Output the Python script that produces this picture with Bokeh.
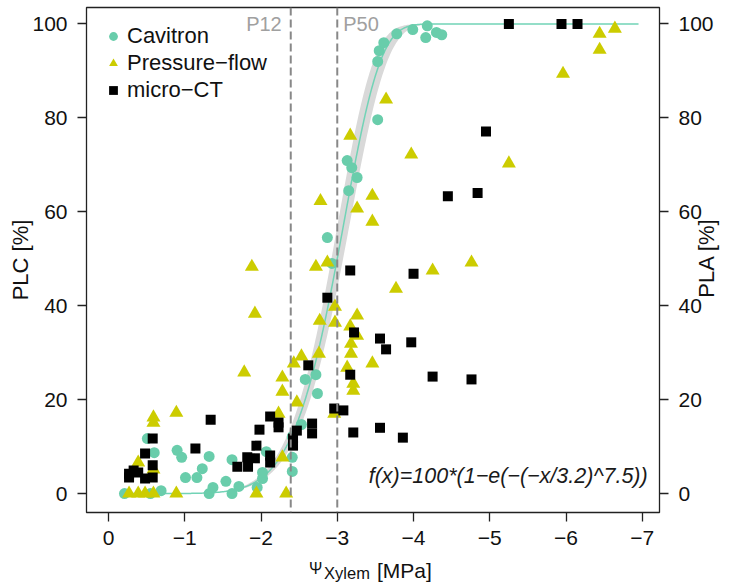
import numpy as np
from bokeh.plotting import figure
from bokeh.layouts import column
from bokeh.models import (Range1d, LinearAxis, FixedTicker, CustomJSTickFormatter,
                          Label, Span, Legend, LegendItem)
from bokeh.embed import file_html
from bokeh.resources import INLINE

# ---------------- data ----------------
cav_x = [-0.21, -0.55, -0.69, -0.51, -0.60, -0.90, -0.96, -1.01, -1.16, -1.23, -1.32, -1.32,
         -1.37, -1.54, -1.62, -1.62, -1.71, -1.95, -2.02, -2.02, -2.07, -2.41, -2.41, -2.41,
         -2.53, -2.58, -2.72, -2.74, -2.87, -2.93, -3.15, -3.13, -3.19, -3.26, -3.53, -3.53,
         -3.55, -3.61, -3.78, -3.99, -4.18, -4.16, -4.30, -4.37]
cav_y = [0.0, 0.0, 0.6, 11.7, 8.7, 9.2, 7.7, 3.4, 3.4, 5.3, 7.9, 0.0,
         1.3, 2.6, 7.2, 0.0, 1.5, 1.3, 3.2, 4.5, 8.9, 4.7, 7.7, 12.1,
         14.7, 24.3, 25.3, 21.3, 54.5, 49.0, 64.5, 70.9, 69.4, 67.3, 79.6, 92.0,
         94.3, 96.0, 97.9, 98.8, 99.6, 97.1, 98.2, 97.7]

pf_x = [-0.27, -0.39, -0.48, -0.59, -0.89, -1.94, -2.33, -0.39, -0.59, -0.59, -0.59, -0.89,
        -1.78, -1.88, -1.92, -2.23, -2.28, -2.28, -2.28, -2.43, -2.47, -2.53, -2.76, -2.72,
        -2.78, -2.77, -2.87, -2.96, -2.97, -2.97, -3.13, -3.17, -3.17, -3.18, -3.18, -3.21,
        -3.21, -3.26, -3.26, -3.26, -3.46, -3.46, -3.46, -3.64, -3.77, -3.97, -4.25, -4.76,
        -5.25, -5.96, -6.44, -6.44, -6.64]
pf_y = [0.0, 0.0, 0.0, 0.0, 0.0, 0.0, 0.0, 6.6, 5.1, 15.1, 16.2, 17.2,
        25.8, 48.3, 38.3, 17.0, 7.7, 21.7, 24.7, 27.7, 19.4, 29.2, 29.8, 48.3,
        62.3, 36.8, 49.2, 17.0, 39.8, 36.4, 26.8, 35.6, 76.2, 31.9, 29.8, 23.4,
        21.9, 60.7, 37.9, 33.6, 63.4, 57.9, 27.7, 83.9, 43.6, 72.2, 47.5, 49.2,
        70.3, 89.4, 97.9, 94.5, 99.0]

ct_x = [-0.27, -0.27, -0.33, -0.39, -0.48, -0.48, -0.58, -0.58, -0.58, -1.14, -1.34, -1.69,
        -1.82, -1.83, -1.92, -1.94, -1.98, -2.12, -2.12, -2.12, -2.23, -2.23, -2.42, -2.42,
        -2.47, -2.62, -2.67, -2.67, -2.87, -2.96, -3.08, -3.17, -3.17, -3.21, -3.22, -3.56,
        -3.56, -3.64, -3.86, -3.97, -4.00, -4.25, -4.45, -4.76, -4.84, -4.95, -5.25, -5.94,
        -6.15]
ct_y = [3.4, 4.2, 4.9, 4.5, 3.2, 8.5, 3.4, 6.0, 11.7, 9.6, 15.7, 5.7,
        7.7, 5.7, 7.5, 10.2, 13.6, 6.6, 8.1, 16.4, 14.1, 15.1, 10.2, 11.7,
        13.4, 27.3, 12.8, 14.9, 41.7, 18.1, 17.7, 25.3, 47.5, 13.0, 34.3, 14.0,
        33.0, 30.7, 11.9, 32.2, 46.8, 24.9, 63.3, 24.3, 64.0, 77.1, 100.0, 100.0,
        100.0]

# Weibull fit  f(x) = 100*(1-exp(-(-x/a)^b)) and its confidence band
fit_a = 3.15
fit_b = 7.5
band_a_lo = 3.07
band_a_hi = 3.23
fit_x_start = -0.2
fit_x_end = -6.95
p12 = -2.39
p50 = -3.0

x_ticks = [0, -1, -2, -3, -4, -5, -6, -7]
y_ticks = [0, 20, 40, 60, 80, 100]

# ---------------- styling ----------------
FONT = "Liberation Sans"
CAV = "#69CDAB"
PF = "#CCCC00"
CT = "#000000"
TXT = "#111111"

p = figure(width=734, height=555, output_backend="svg", toolbar_location=None,
           x_range=Range1d(0.288, -7.225), y_range=Range1d(-4.04, 103.5),
           min_border_left=86, min_border_right=74, min_border_top=7, min_border_bottom=43)
p.background_fill_color = "white"
p.border_fill_color = "white"
p.outline_line_color = "#222222"
p.outline_line_width = 1.3
p.grid.visible = False

def style_axis(ax, ticks):
    ax.ticker = FixedTicker(ticks=ticks)
    ax.axis_line_color = None
    ax.major_tick_out = 9
    ax.major_tick_in = 0
    ax.minor_tick_line_color = None
    ax.major_tick_line_color = "#222222"
    ax.major_tick_line_width = 1.3
    ax.major_label_text_font = FONT
    ax.major_label_text_font_size = "21px"
    ax.major_label_text_color = TXT
    ax.axis_label_text_font = FONT
    ax.axis_label_text_font_size = "22px"
    ax.axis_label_text_font_style = "normal"
    ax.axis_label_text_color = TXT

style_axis(p.xaxis[0], x_ticks)
p.xaxis[0].major_label_standoff = 9
p.xaxis[0].formatter = CustomJSTickFormatter(
    code="return tick == 0 ? '0' : '\\u2212' + Math.abs(tick).toFixed(0);")

style_axis(p.yaxis[0], y_ticks)
p.yaxis[0].major_label_standoff = 10
p.yaxis[0].major_label_orientation = "horizontal"
p.yaxis[0].axis_label = "PLC [%]"
p.yaxis[0].axis_label_standoff = -4

right = LinearAxis()
style_axis(right, y_ticks)
right.major_label_standoff = 10
p.add_layout(right, "right")

# right-hand title "PLA [%]" (reads bottom-to-top), carried by a tick-less axis
pla_start = 41.7
pla_axis = LinearAxis(ticker=FixedTicker(ticks=[pla_start]),
                      formatter=CustomJSTickFormatter(code="return 'PLA [%]';"))
pla_axis.axis_line_color = None
pla_axis.major_tick_line_color = None
pla_axis.minor_tick_line_color = None
pla_axis.major_tick_out = 0
pla_axis.major_tick_in = 0
pla_axis.major_label_standoff = -10
pla_axis.major_label_orientation = np.pi / 2
pla_axis.major_label_text_font = FONT
pla_axis.major_label_text_font_size = "22px"
pla_axis.major_label_text_color = TXT
p.add_layout(pla_axis, "right")

# band and fitted curve
xs = np.linspace(fit_x_start, fit_x_end, 600)
def weib(x, a, b):
    return 100.0 * (1.0 - np.exp(-(-x / a) ** b))
y_fit = weib(xs, fit_a, fit_b)
y_lo = weib(xs, band_a_hi, fit_b)
y_hi = weib(xs, band_a_lo, fit_b)
p.varea(x=xs, y1=y_lo, y2=y_hi, fill_color="#D9D9D9")
p.line(xs, y_fit, line_color="#72D3B6", line_width=1.5)

# P12 / P50 lines
for xv in (p12, p50):
    p.add_layout(Span(location=xv, dimension="height", line_color="#888888",
                      line_width=2, line_dash="8 4"))

r_cav = p.scatter(cav_x, cav_y, marker="circle", size=11, fill_color=CAV, line_color=None)
r_pf = p.scatter(pf_x, pf_y, marker="triangle", size=14, fill_color=PF, line_color=None)
r_ct = p.scatter(ct_x, ct_y, marker="square", size=10, fill_color=CT, line_color=None)

legend = Legend(items=[LegendItem(label="Cavitron", renderers=[r_cav]),
                       LegendItem(label="Pressure\u2212flow", renderers=[r_pf]),
                       LegendItem(label="micro\u2212CT", renderers=[r_ct])],
                location="top_left", margin=16, padding=13, spacing=1,
                glyph_width=22, glyph_height=22, label_height=22, label_standoff=3,
                label_text_font=FONT, label_text_font_size="22px",
                label_text_color=TXT,
                border_line_color=None, background_fill_alpha=0)
p.add_layout(legend)

# texts in the plot
p.add_layout(Label(x=p12, y=99.9, x_offset=-9, text="P12", text_align="right",
                   text_baseline="alphabetic", text_color="#A0A0A0",
                   text_font=FONT, text_font_size="20px"))
p.add_layout(Label(x=p50, y=99.9, x_offset=6, text="P50", text_align="left",
                   text_baseline="alphabetic", text_color="#A0A0A0",
                   text_font=FONT, text_font_size="20px"))
p.add_layout(Label(x=-7.07, y=3.7, text="f(x)=100*(1\u2212e(\u2212(\u2212x/3.2)^7.5))",
                   text_align="right", text_baseline="alphabetic", text_color="#1a1a1a",
                   text_font=FONT, text_font_size="21.5px", text_font_style="italic"))

# x-axis title strip (Psi with subscript "Xylem"); its frame is aligned with the
# main frame (canvas x 86..660), so the x range is expressed in canvas pixels
q = figure(width=734, height=28, output_backend="svg", toolbar_location=None,
           x_range=Range1d(86, 660), y_range=Range1d(28, 0),
           x_axis_type=None, y_axis_type=None,
           min_border_left=86, min_border_right=74, min_border_top=0, min_border_bottom=0)
q.outline_line_color = None
q.grid.visible = False
q.background_fill_color = "white"
q.border_fill_color = "white"
q.add_layout(Label(x=309, y=13, text="\u03a8", text_align="left", text_baseline="alphabetic",
                   text_font=FONT, text_font_size="16px", text_color=TXT))
q.add_layout(Label(x=324, y=17, text="Xylem", text_align="left", text_baseline="alphabetic",
                   text_font=FONT, text_font_size="16.5px", text_color=TXT))
q.add_layout(Label(x=377, y=15, text="[MPa]", text_align="left", text_baseline="alphabetic",
                   text_font=FONT, text_font_size="21px", text_color=TXT))

layout = column(p, q, spacing=0)
open("out.html", "w").write(file_html(layout, INLINE))
